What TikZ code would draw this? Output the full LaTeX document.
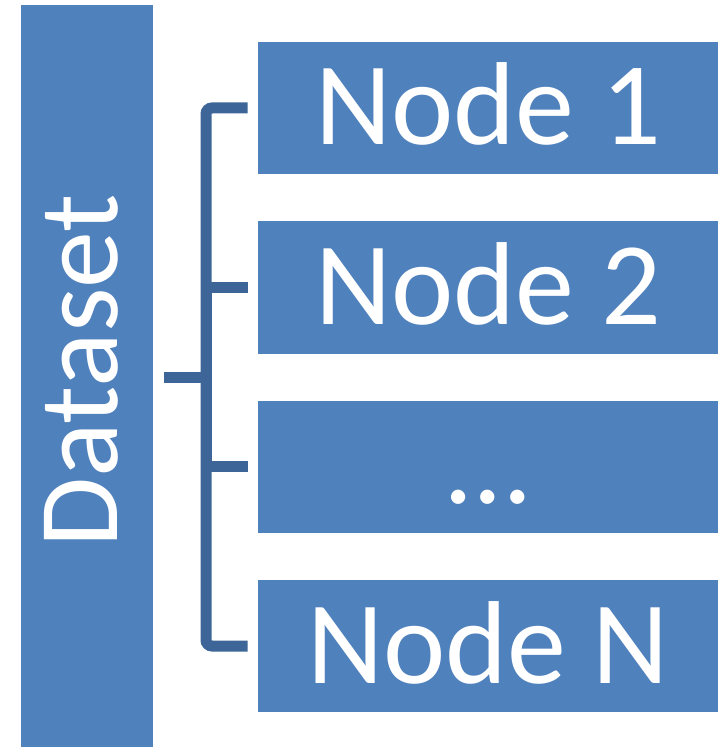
\documentclass[tikz,border=0pt]{standalone}
\usepackage{fontspec}
\setmainfont{Carlito}
\usetikzlibrary{positioning}

\begin{document}
\begin{tikzpicture}[x=0.5pt,y=-0.5pt]
\definecolor{boxColor}{RGB}{79,129,189}
\definecolor{linkColor}{RGB}{61,101,151}
\tikzset{
  dataBox/.style={fill=boxColor, text=white, inner sep=0pt, rotate=90,
    minimum width=371pt, minimum height=66pt, text height=30pt, text depth=0pt,
    font=\fontsize{57}{62}\selectfont},
  nodeBox/.style={fill=boxColor, text=white, inner sep=0pt,
    minimum width=230pt, minimum height=66pt, text height=37pt, text depth=0pt,
    font=\fontsize{59}{64}\selectfont},
  linkLine/.style={draw=linkColor, line width=5.5pt}
}
\useasboundingbox (0,0) rectangle (722,748);
\node[dataBox] (dataset) at (87,376) {\hspace*{5pt}Dataset};
\foreach \y/\name/\txt in {108/n1/Node 1,287.5/n2/Node 2,466.5/ndots/{\ldots},646/nN/Node N}
  \node[nodeBox] (\name) at (488,\y) {\txt};
\coordinate (split) at (206,377);
% dataset is turned, so its south side faces the nodes
\draw[linkLine] ([xshift=5.5pt]dataset.south |- split) -- (split);
\draw[linkLine, rounded corners=3pt] ([xshift=-5pt]n1.west) -| (split) |- ([xshift=-5pt]nN.west);
\foreach \name in {n2,ndots}
  \draw[linkLine] (split) |- ([xshift=-5pt]\name.west);
\end{tikzpicture}
\end{document}
